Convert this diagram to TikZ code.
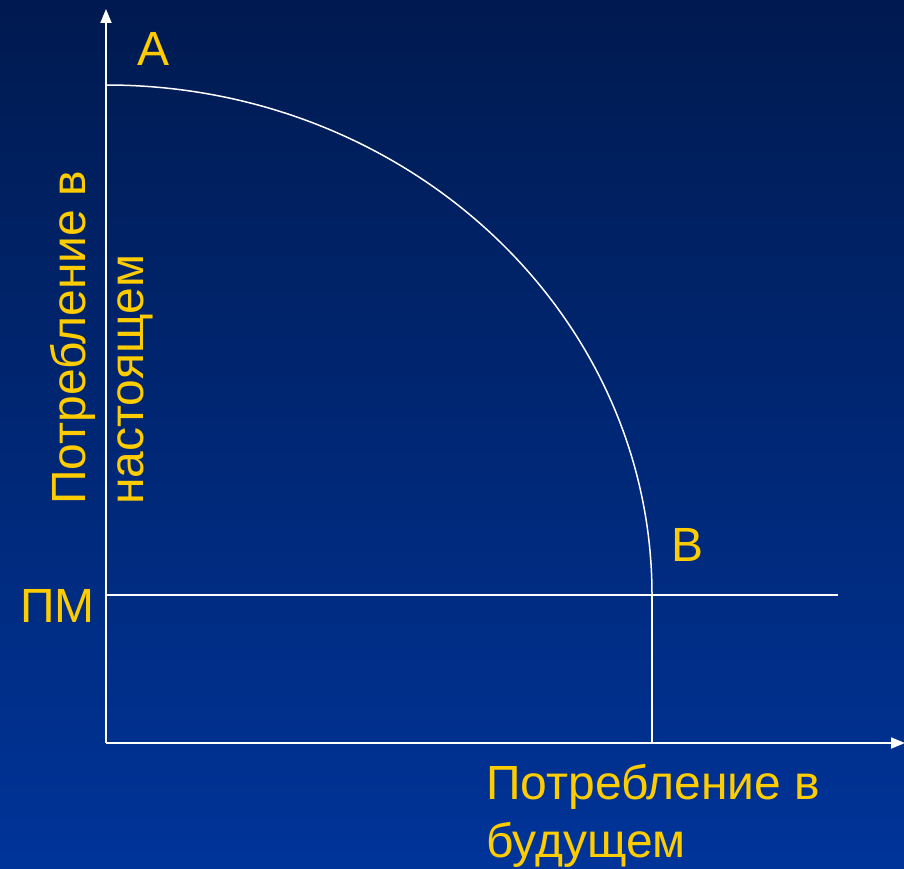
\documentclass[tikz,border=0pt]{standalone}
\usepackage{fontspec}
\setmainfont{Liberation Sans}
\usetikzlibrary{arrows.meta}
\definecolor{bgtop}{RGB}{0,26,80}
\definecolor{bgbot}{RGB}{0,52,153}
\definecolor{lab}{RGB}{255,204,0}
\begin{document}
\begin{tikzpicture}[x=1pt,y=-1pt,
  axis/.style={draw=white,line width=1.8pt,-{Triangle[length=14pt,width=11pt]}},
  guide/.style={draw=white,line width=1.5pt},
  lbl/.style={text=lab,inner sep=0pt,font=\fontsize{48}{58}\selectfont}]
\shade[top color=bgtop,bottom color=bgbot] (0,0) rectangle (904,869);
\useasboundingbox (0,0) rectangle (904,869);
\coordinate (O) at (106,743);
\coordinate (Ytop) at (106,9);
\coordinate (Xend) at (905,743);
\coordinate (A) at (106,85);
\coordinate (B) at (652,595);
\coordinate (PMl) at (106,595);
\coordinate (PMr) at (838,595);
\coordinate (Bfoot) at (652,743);
\draw[axis] (O) -- (Ytop);
\draw[axis] (O) -- (Xend);
\draw[guide] (A) arc[start angle=90,end angle=0,x radius=546pt,y radius=510pt];
\draw[guide] (PMl) -- (PMr);
\draw[guide] (B) -- (Bfoot);
\node[lbl,anchor=base west] (la) at (137,66) {A};
\node[lbl,anchor=base west] (lb) at (671,561) {B};
\node[lbl,anchor=base west] (lpm) at (20,622) {ПМ};
\node[lbl,anchor=north west,align=left] (lx) at (486,764) {Потребление в\\будущем};
\node[lbl,anchor=north west,align=left,rotate=90] (ly) at (50,505) {Потребление в\\настоящем};
\end{tikzpicture}
\end{document}
